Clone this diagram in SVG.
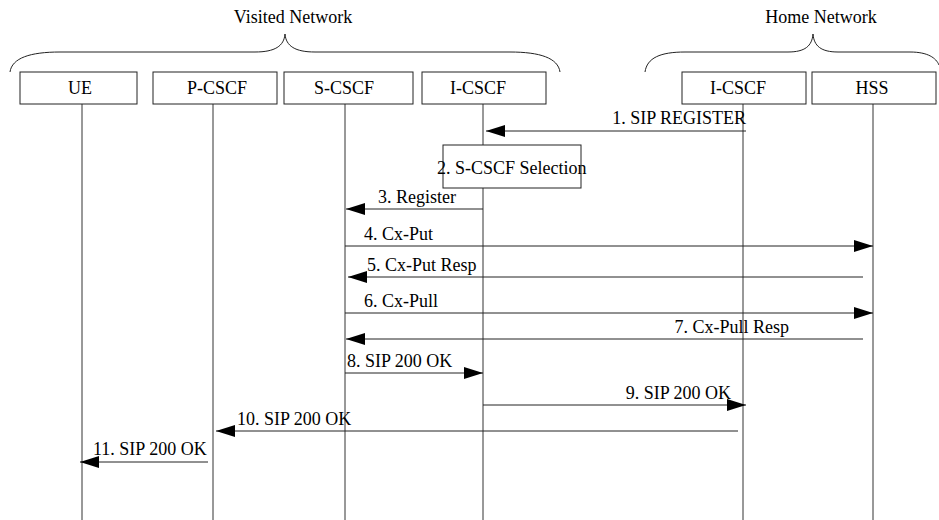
<svg xmlns="http://www.w3.org/2000/svg" width="939" height="520" viewBox="0 0 939 520">
<style>
text{font-family:"Liberation Serif","Times New Roman",serif;font-size:18px;fill:#000}
.box{fill:#fff;stroke:#222;stroke-width:1}
.life{stroke:#333;stroke-width:1}
.msg{stroke:#222;stroke-width:1;fill:none}
.brace{fill:none;stroke:#222;stroke-width:1}
.c{text-anchor:middle}
.e{text-anchor:end}
</style>
<defs>
<marker id="ah" markerUnits="userSpaceOnUse" markerWidth="19" markerHeight="12" refX="19" refY="6" orient="auto">
<path d="M0,0 L19,6 L0,12 z" fill="#000"/>
</marker>
</defs>
<g id="braces">
<path class="brace" d="M10,72 C12,58 30,52 60,52 L255,52 C275,52 284,46 285,34 C286,46 295,52 315,52 L510,52 C540,52 558,58 560,72"/>
<text class="c" x="293" y="23">Visited Network</text>
<path class="brace" d="M645,72 C647,58 660,52 685,52 L788,52 C805,52 812,46 813,34 C814,46 821,52 838,52 L910,52 C928,52 936,58 939,65"/>
<text class="c" x="821" y="23">Home Network</text>
</g>
<g id="lifelines">
<line class="life" x1="82" y1="104" x2="82" y2="520"/>
<line class="life" x1="213" y1="104" x2="213" y2="520"/>
<line class="life" x1="345" y1="104" x2="345" y2="520"/>
<line class="life" x1="483" y1="104" x2="483" y2="520"/>
<line class="life" x1="743" y1="104" x2="743" y2="520"/>
<line class="life" x1="873" y1="104" x2="873" y2="520"/>
</g>
<g id="ue"><rect class="box" x="20" y="72" width="117" height="32"/><text class="c" x="80" y="94">UE</text></g>
<g id="pcscf"><rect class="box" x="153" y="72" width="124" height="32"/><text class="c" x="217" y="94">P-CSCF</text></g>
<g id="scscf"><rect class="box" x="284" y="72" width="129" height="32"/><text class="c" x="344" y="94">S-CSCF</text></g>
<g id="icscf-v"><rect class="box" x="422" y="72" width="124" height="32"/><text class="c" x="478" y="94">I-CSCF</text></g>
<g id="icscf-h"><rect class="box" x="682" y="72" width="124" height="32"/><text class="c" x="738" y="94">I-CSCF</text></g>
<g id="hss"><rect class="box" x="812" y="72" width="124" height="32"/><text class="c" x="872" y="94">HSS</text></g>
<g id="selection"><rect class="box" x="443" y="145" width="138" height="43"/><text x="437" y="174">2. S-CSCF Selection</text></g>
<g id="connectors">
<line class="msg" x1="746" y1="131" x2="486" y2="131" marker-end="url(#ah)"/>
<text class="e" x="746" y="124">1. SIP REGISTER</text>
<line class="msg" x1="483" y1="209" x2="346" y2="209" marker-end="url(#ah)"/>
<text x="378" y="203">3. Register</text>
<line class="msg" x1="345" y1="246" x2="873" y2="246" marker-end="url(#ah)"/>
<text x="364" y="240">4. Cx-Put</text>
<line class="msg" x1="863" y1="277" x2="348" y2="277" marker-end="url(#ah)"/>
<text x="367" y="271">5. Cx-Put Resp</text>
<line class="msg" x1="345" y1="313" x2="873" y2="313" marker-end="url(#ah)"/>
<text x="364" y="307">6. Cx-Pull</text>
<line class="msg" x1="863" y1="339" x2="346" y2="339" marker-end="url(#ah)"/>
<text class="e" x="789" y="333">7. Cx-Pull Resp</text>
<line class="msg" x1="345" y1="373" x2="483" y2="373" marker-end="url(#ah)"/>
<text x="347" y="367">8. SIP 200 OK</text>
<line class="msg" x1="483" y1="405" x2="746" y2="405" marker-end="url(#ah)"/>
<text class="e" x="731" y="399">9. SIP 200 OK</text>
<line class="msg" x1="738" y1="431" x2="216" y2="431" marker-end="url(#ah)"/>
<text x="237" y="425">10. SIP 200 OK</text>
<line class="msg" x1="208" y1="462" x2="80" y2="462" marker-end="url(#ah)"/>
<text x="93" y="455">11. SIP 200 OK</text>
</g>
</svg>
